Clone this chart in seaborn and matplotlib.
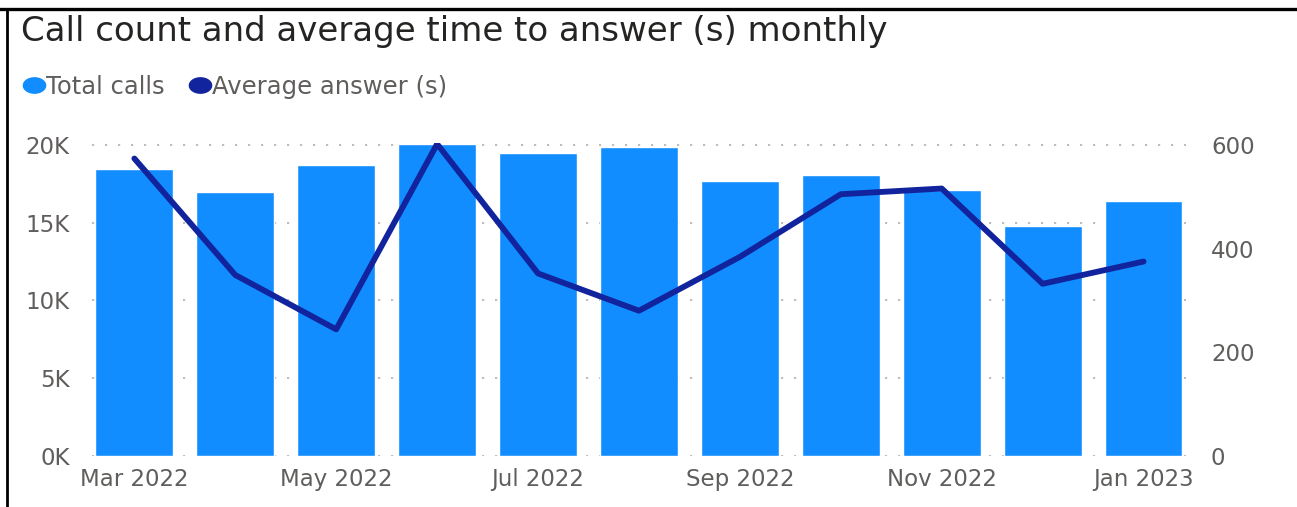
import numpy as np
import pandas as pd
import matplotlib
matplotlib.use('Agg')
import matplotlib.pyplot as plt
from matplotlib.lines import Line2D
from matplotlib.path import Path
from matplotlib.ticker import FuncFormatter
import seaborn as sns

months = ['Mar 2022', 'Apr 2022', 'May 2022', 'Jun 2022', 'Jul 2022', 'Aug 2022',
          'Sep 2022', 'Oct 2022', 'Nov 2022', 'Dec 2022', 'Jan 2023']
total_calls = [18480, 16980, 18720, 20070, 19470, 19860,
               17710, 18080, 17110, 14790, 16400]
avg_answer = [574, 349, 244, 602, 352, 280, 384, 505, 516, 332, 375]

BAR_COLOR = '#118DFF'
LINE_COLOR = '#12239E'
TEXT_GRAY = '#605E5C'
TITLE_COLOR = '#252423'
TICK_SIZE = 16.5


def main():
    df = pd.DataFrame({'Month': months, 'Total calls': total_calls,
                       'Average answer (s)': avg_answer})

    sns.set_style('white')
    plt.rcParams['font.family'] = ['DejaVu Sans']

    fig = plt.figure(figsize=(12.97, 5.07), dpi=100)
    ax = fig.add_axes([0.0709, 0.1012, 0.8435, 0.6158])

    # dotted gridlines behind bars
    ax.set_axisbelow(True)
    ax.yaxis.grid(True, linestyle=(0, (1.2, 6)), color='#B8B6B4', linewidth=1.3)
    ax.xaxis.grid(False)

    sns.barplot(data=df, x='Month', y='Total calls', color=BAR_COLOR,
                width=0.77, saturation=1, ax=ax, zorder=2)
    ax.set_xlim(-0.42, 10.42)
    ax.set_ylim(0, 20100)
    ax.set_yticks([0, 5000, 10000, 15000, 20000])
    ax.yaxis.set_major_formatter(FuncFormatter(lambda v, p: f'{int(v / 1000)}K'))

    ticks = list(range(0, len(months), 2))
    ax.set_xticks(ticks)
    ax.set_xticklabels([months[i] for i in ticks])
    ax.set_xlabel('')
    ax.set_ylabel('')
    ax.tick_params(axis='x', length=0, pad=9, labelsize=TICK_SIZE, labelcolor=TEXT_GRAY)
    ax.tick_params(axis='y', length=0, pad=16, labelsize=TICK_SIZE, labelcolor=TEXT_GRAY)
    for s in ax.spines.values():
        s.set_visible(False)

    ax2 = ax.twinx()
    sns.pointplot(data=df, x='Month', y='Average answer (s)', color=LINE_COLOR,
                  markers='', linewidth=4.2, errorbar=None, ax=ax2)
    ax2.set_xlim(-0.42, 10.42)
    ax2.set_ylim(0, 603)
    ax2.set_yticks([0, 200, 400, 600])
    ax2.set_ylabel('')
    ax2.set_xlabel('')
    ax2.tick_params(axis='y', length=0, pad=18, labelsize=TICK_SIZE, labelcolor=TEXT_GRAY)
    ax2.grid(False)
    for s in ax2.spines.values():
        s.set_visible(False)
    ax2.set_xticks(ticks)
    ax2.set_xticklabels([months[i] for i in ticks])

    # title and legend
    fig.text(21 / 1297, 1 - 32 / 507, 'Call count and average time to answer (s) monthly',
             fontsize=24.5, color=TITLE_COLOR, va='center', ha='left')

    # the source screenshot is stretched sideways, so legend dots are ovals
    t = np.linspace(0, 2 * np.pi, 60)
    oval = Path(np.column_stack([1.45 * np.cos(t), np.sin(t)]), closed=True)
    handles = [Line2D([], [], marker=oval, linestyle='', markersize=16, color=BAR_COLOR),
               Line2D([], [], marker=oval, linestyle='', markersize=16, color=LINE_COLOR)]
    fig.legend(handles, ['Total calls', 'Average answer (s)'], loc='center left',
               bbox_to_anchor=(22 / 1297, 1 - 87 / 507), ncol=2, frameon=False,
               borderpad=0, borderaxespad=0, handletextpad=0.0, columnspacing=0.95,
               handlelength=1.0, labelcolor=TEXT_GRAY, prop={'size': 17.5})

    # screenshot frame (top and left)
    fig.add_artist(Line2D([0, 1], [1 - 9 / 507, 1 - 9 / 507], color='black', linewidth=2.4,
                          transform=fig.transFigure))
    fig.add_artist(Line2D([7 / 1297, 7 / 1297], [0, 1 - 9 / 507], color='black', linewidth=2,
                          transform=fig.transFigure))

    fig.savefig('out.png', dpi=100)
    plt.close(fig)


if __name__ == '__main__':
    main()
